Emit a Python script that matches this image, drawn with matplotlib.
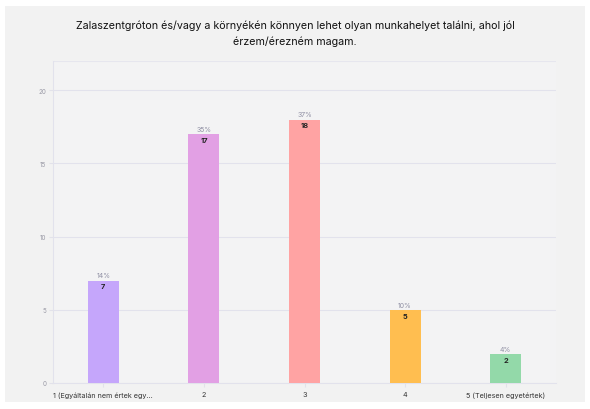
import matplotlib
matplotlib.use("Agg")
import matplotlib.pyplot as plt
from matplotlib.patches import Rectangle

categories = ["1 (Egyáltalán nem értek egy...", "2", "3", "4", "5 (Teljesen egyetértek)"]
counts = [7, 17, 18, 5, 2]
percents = ["14%", "35%", "37%", "10%", "4%"]
colors = ["#c5a6fb", "#e2a0e4", "#ffa3a3", "#ffbe50", "#93d9a9"]
yticks = [0, 5, 10, 15, 20]
title = "Zalaszentgróton és/vagy a környékén könnyen lehet olyan munkahelyet találni, ahol jól\nérzem/érezném magam."

plt.rcParams['font.family'] = ['Inter', 'DejaVu Sans']

fig = plt.figure(figsize=(5.9, 4.1), dpi=100)
fig.patch.set_facecolor("white")
fig.patches.append(Rectangle((5/590, 7/410), 580/590, 396/410, transform=fig.transFigure,
                             facecolor="#f2f2f2", edgecolor="none", zorder=-10))

ax = fig.add_axes([53/590, 1 - 384/410, 503/590, 322/410])
ax.set_facecolor("#f3f3f4")
x = list(range(len(categories)))
bars = ax.bar(x, counts, width=0.31, color=colors, zorder=3)
ax.set_xlim(-0.5, 4.5)
ax.set_ylim(0, 22)
ax.set_yticks(yticks)
ax.set_yticklabels([str(v) for v in yticks], fontsize=4.5, color="#9a9aa6")
ax.set_xticks(x)
ax.set_xticklabels(categories, fontsize=5.2, color="#333333")
ax.tick_params(axis='y', length=3, color="#e2e2ea", pad=2)
ax.tick_params(axis='x', length=3, color="#e2e2ea", pad=3)
ax.grid(axis='y', color="#e2e2ec", linewidth=0.8, zorder=0)
for s in ["top", "right"]:
    ax.spines[s].set_visible(False)
ax.spines["left"].set_color("#e2e2ec")
ax.spines["bottom"].set_color("#e2e2ec")
ax.spines["left"].set_linewidth(0.8)
ax.spines["bottom"].set_linewidth(0.8)
ax.axhline(22, color="#e6e6ee", linewidth=0.8, zorder=1)

for xi, c, p in zip(x, counts, percents):
    ax.annotate(p, (xi, c), xytext=(0, 1.5), textcoords="offset points",
                ha="center", va="bottom", fontsize=5, color="#9090a4")
    ax.annotate(str(c), (xi, c), xytext=(0, -2), textcoords="offset points",
                ha="center", va="top", fontsize=5.3, color="#222222", fontweight="bold")

fig.text(0.5, 1 - 33.5/410, title, ha="center", va="center", fontsize=7.7, color="#111111",
         linespacing=1.65)

fig.savefig("out.png", dpi=100, facecolor=fig.get_facecolor())
